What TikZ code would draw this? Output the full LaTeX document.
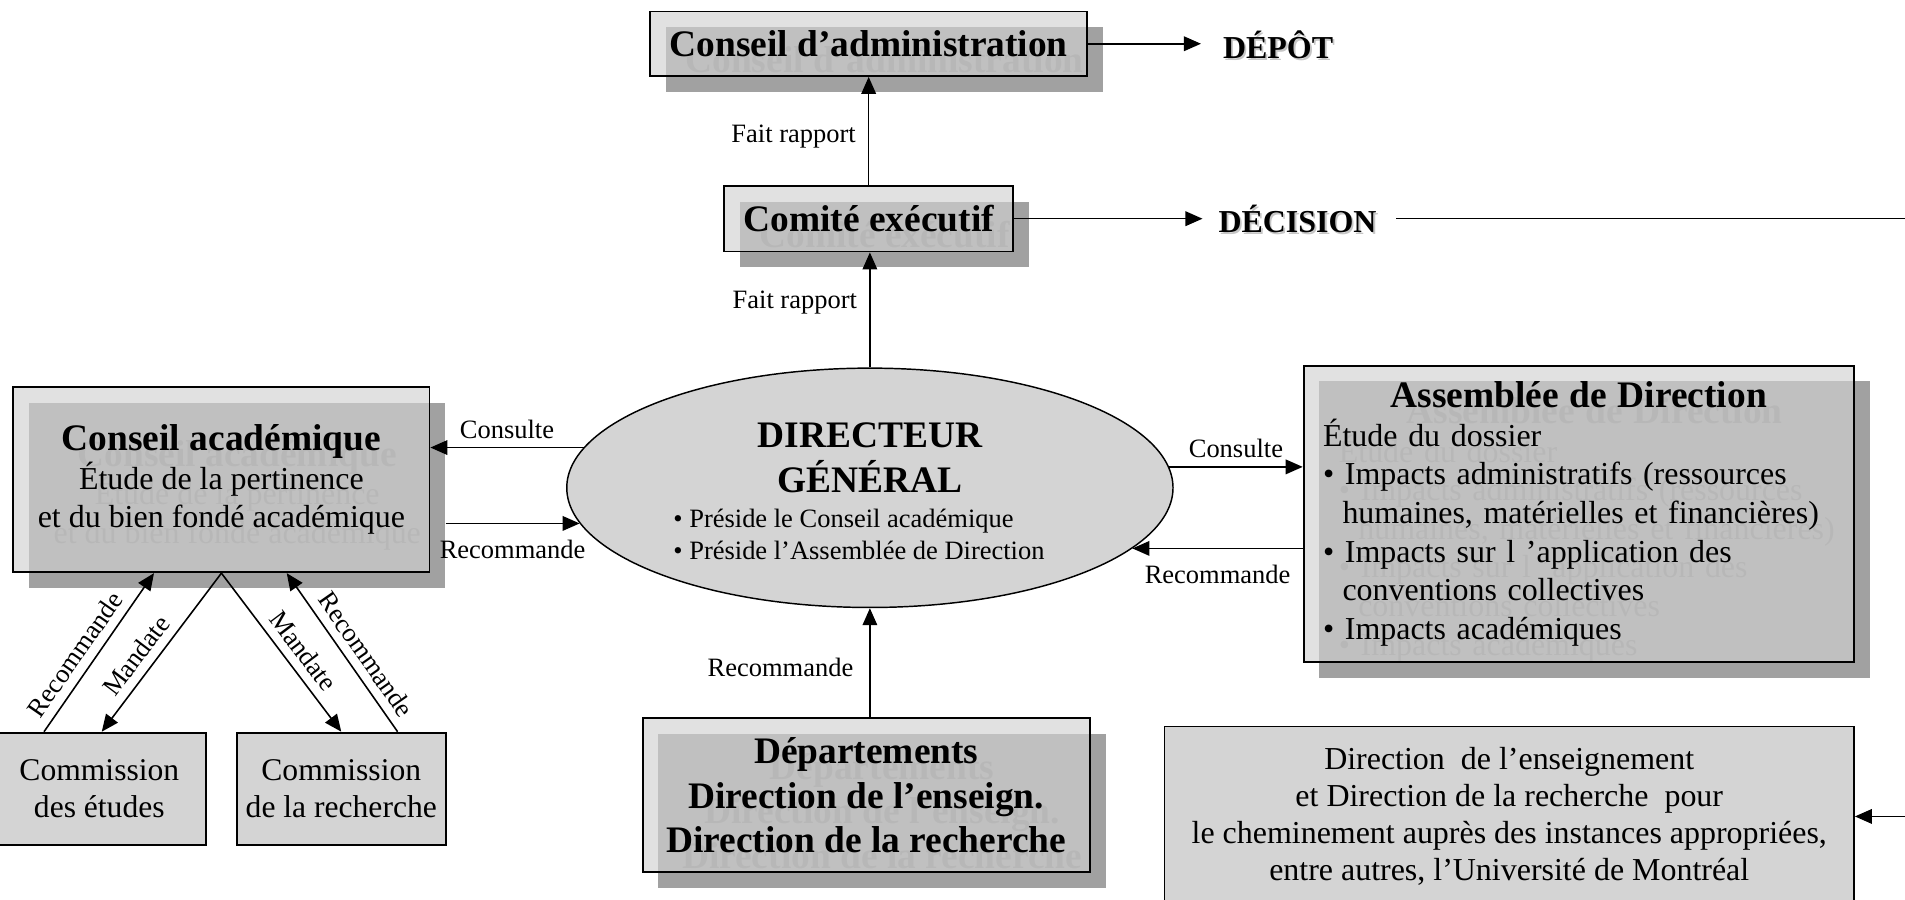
\documentclass[tikz,border=0pt]{standalone}
\usepackage{fontspec}
\setmainfont{Liberation Serif}
\usepackage{xcolor}
\usepackage{tikz}
\usetikzlibrary{shapes.geometric, arrows.meta}

\definecolor{ombregris}{gray}{0.63}
\definecolor{boitegris}{gray}{0.82}
\definecolor{fantomegris}{gray}{0.53}
\definecolor{fondgris}{gray}{0.83}

\newcommand{\policetitre}{\fontsize{30.8}{36.5}\selectfont\bfseries}
\newcommand{\policecorps}{\fontsize{26.3}{31.8}\selectfont}
\newcommand{\policeetiq}{\fontsize{21.8}{26}\selectfont}

% boite avec ombre portee et texte fantome
\newcommand{\boiteombree}[4]{%
  \node[ombre, #3, xshift=13pt, yshift=-13pt] (#1o) at #2 {};
  \node[fantome, #3, xshift=13pt, yshift=-13pt] (#1f) at #2 {#4};
  \node[boite, #3] (#1) at #2 {#4};
}

\begin{document}
\begin{tikzpicture}[x=1pt, y=-1pt, every node/.style={inner sep=0pt},
    ombre/.style={rectangle, fill=ombregris},
    fantome/.style={rectangle, text=fantomegris},
    boite/.style={rectangle, draw, line width=1.5pt, fill=boitegris, fill opacity=0.66, text opacity=1},
    plaque/.style={rectangle, draw, line width=1.5pt, fill=fondgris},
    fleche/.style={-{Triangle[length=14pt,width=12pt]}, line width=1.3pt},
    etiq/.style={font=\policeetiq, inner sep=3pt},
    motcle/.style={font=\fontsize{26.3}{30}\selectfont\bfseries}]
  \useasboundingbox (0,0) rectangle (1568,740);
  % Nodes
  \boiteombree{ca}{(715,36)}{minimum width=360pt, minimum height=53pt, font=\policetitre}{Conseil d’administration}
  \boiteombree{ce}{(715,180)}{minimum width=238pt, minimum height=54pt, font=\policetitre}{Comité exécutif}
  \boiteombree{cac}{(182.25,394.75)}{minimum width=342.5pt, minimum height=152.5pt, font=\policecorps, align=center}{{\policetitre Conseil académique}\\Étude de la pertinence\\et du bien fondé académique}
  \boiteombree{ad}{(1299.5,423)}{minimum width=453pt, minimum height=244pt, font=\policecorps, text width=421pt, align=left}{\makebox[421pt]{\policetitre Assemblée de Direction}\\Étude du dossier\\• Impacts administratifs (ressources\\\hspace*{16pt}humaines, matérielles et financières)\\• Impacts sur l ’application des\\\hspace*{16pt}conventions collectives\\• Impacts académiques}
  \boiteombree{dep}{(713,654.5)}{minimum width=368pt, minimum height=127pt, font=\policetitre, align=center}{Départements\\Direction de l’enseign.\\Direction de la recherche}
  \node[plaque, minimum width=567.5pt, minimum height=148pt, font=\fontsize{26.3}{30.3}\selectfont, align=center] (dirbas) at (1242.25,672) {Direction~ de l’enseignement\\et Direction de la recherche~ pour\\le cheminement auprès des instances appropriées,\\entre autres, l’Université de Montréal};
  \node[plaque, minimum width=175.5pt, minimum height=92.5pt, font=\fontsize{26}{30}\selectfont, align=center] (c1) at (81.75,649.25) {Commission\\des études};
  \node[plaque, minimum width=171.8pt, minimum height=92.5pt, font=\fontsize{26}{30}\selectfont, align=center] (c2) at (280.9,649.25) {Commission\\de la recherche};
  \node[ellipse, draw, line width=1.2pt, fill=fondgris, minimum width=499pt, minimum height=197pt] (dg) at (716,401.5) {};
  \node[font=\fontsize{30.8}{37}\selectfont\bfseries, align=center] (dgtitre) at (716,376.5) {DIRECTEUR\\GÉNÉRAL};
  \node[font=\policeetiq, align=left] (dgliste) at (707,440) {• Préside le Conseil académique\\• Préside l’Assemblée de Direction};
  \node[motcle, text=gray!45, xshift=1.5pt, yshift=-1.5pt] (depotf) at (1052,37) {DÉPÔT};
  \node[motcle] (depot) at (1052,37) {DÉPÔT};
  \node[motcle, text=gray!45, xshift=1.5pt, yshift=-1.5pt] (decisionf) at (1068,180) {DÉCISION};
  \node[motcle] (decision) at (1068,180) {DÉCISION};
  \coordinate (coin) at (decision.east -| 1585,0);
  % Edges
  \draw[fleche, shorten >=18pt] (ca.east) -- (ca.east -| depot.west);
  \draw[fleche, shorten >=13pt] (ce.east) -- (ce.east -| decision.west);
  \draw[fleche, shorten <=16pt] (decision.east) -- (coin) |- (dirbas.east);
  \draw[fleche] (ce) -- node[etiq, pos=0.45, left=7pt] (lfr1) {Fait rapport} (ca);
  \draw[fleche] (dg.north) -- node[etiq, pos=0.56, left=7pt] (lfr2) {Fait rapport} (dg.north |- ce.south);
  \draw[fleche] (dg.south |- dep.north) -- node[etiq, pos=0.46, left=10pt] (lrec1) {Recommande} (dg.south);
  \draw[fleche] (dg.172) -- node[etiq, above=4pt] (lcons1) {Consulte} (dg.172 -| cac.east);
  \draw[fleche] (dg.187 -| caco.east) -- node[etiq, below=10pt] (lrec2) {Recommande} (dg.187);
  \draw[fleche] (dg.4) -- node[etiq, above=4pt] (lcons2) {Consulte} (dg.4 -| ad.west);
  \draw[fleche] (dg.347 -| ad.west) -- node[etiq, below=10pt] (lrec3) {Recommande} (dg.347);
  \draw[fleche] ([xshift=43pt]c1.north west) -- node[etiq, sloped, pos=0.42, above=4pt] (lrec4) {Recommande} ([xshift=116.5pt]cac.south west);
  \draw[fleche] (cac.south) -- node[etiq, sloped, pos=0.59, above=4pt] (lman1) {Mandate} ([xshift=2pt]c1.north);
  \draw[fleche] (cac.south) -- node[etiq, sloped, pos=0.56, above=4pt] (lman2) {Mandate} (c2.north);
  \draw[fleche] ([xshift=-40.3pt]c2.north east) -- node[etiq, sloped, pos=0.42, above=4pt] (lrec5) {Recommande} ([xshift=53.75pt]cac.south);
\end{tikzpicture}
\end{document}
